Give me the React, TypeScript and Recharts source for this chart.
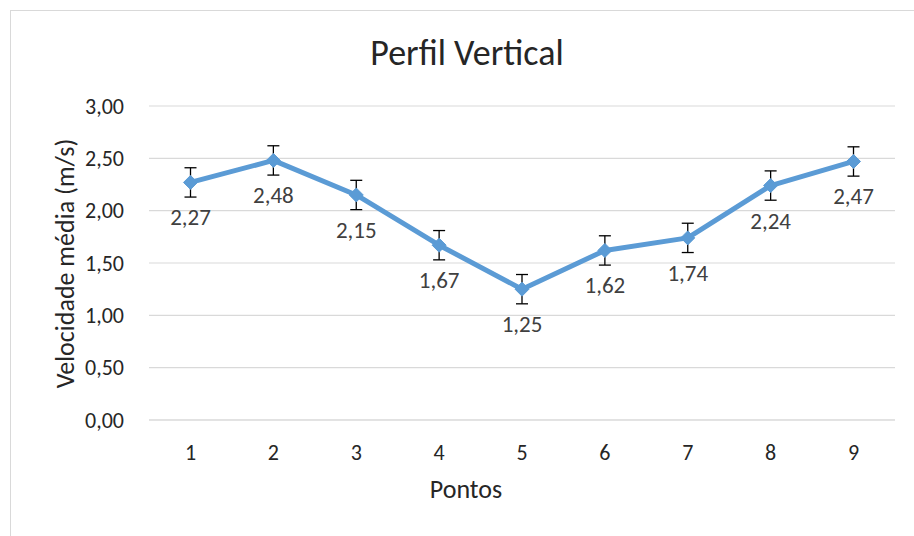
import React from "react";
import {
  LineChart,
  Line,
  XAxis,
  YAxis,
  CartesianGrid,
  ErrorBar,
  LabelList,
} from "recharts";

const pontos = ["1", "2", "3", "4", "5", "6", "7", "8", "9"];
const velocidades = [2.27, 2.48, 2.15, 1.67, 1.25, 1.62, 1.74, 2.24, 2.47];
const erros = [0.14, 0.14, 0.14, 0.14, 0.14, 0.14, 0.14, 0.14, 0.14];
const yTicks = [0, 0.5, 1, 1.5, 2, 2.5, 3];

const dados = pontos.map((p, i) => ({
  ponto: p,
  vel: velocidades[i],
  erro: erros[i],
}));

const FONT = "Carlito, Calibri, Lato, sans-serif";
const W = 914;
const H = 536;

const fmt = (v: number) => v.toFixed(2).replace(".", ",");

function Diamond(props: any) {
  const { cx, cy } = props;
  if (cx == null || cy == null) return null;
  const r = 7;
  return (
    <polygon
      points={`${cx},${cy - r} ${cx + r},${cy} ${cx},${cy + r} ${cx - r},${cy}`}
      fill="#5B9BD5"
      stroke="#5B9BD5"
    />
  );
}

function ValueLabel(props: any) {
  const { x, y, value } = props;
  return (
    <text
      x={x}
      y={Number(y) + 35}
      textAnchor="middle"
      dominantBaseline="central"
      fontSize={23}
      fontFamily={FONT}
      fill="#404040"
    >
      {fmt(Number(value))}
    </text>
  );
}

export default function App() {
  return (
    <div style={{ position: "absolute", left: 0, top: 0, width: W, height: H, overflow: "hidden", background: "#fff" }}>
      <div
        style={{
          position: "absolute",
          left: 10,
          top: 10,
          width: 1000,
          height: 1000,
          border: "1px solid #d9d9d9",
        }}
      />
      <LineChart
        width={W}
        height={H}
        data={dados}
        margin={{ top: 106, right: 19, bottom: 86, left: 0 }}
        style={{ position: "absolute", left: 0, top: 0 }}
      >
        <CartesianGrid vertical={false} stroke="#d9d9d9" strokeWidth={1.2} />
        <XAxis
          dataKey="ponto"
          height={30}
          padding={{ left: 41.5, right: 41.5 }}
          stroke="#d9d9d9"
          tickLine={false}
          tickMargin={18}
          tick={{ fill: "#262626", fontSize: 22, fontFamily: FONT }}
        />
        <YAxis
          width={149}
          domain={[0, 3]}
          ticks={yTicks}
          axisLine={false}
          tickLine={false}
          tickMargin={19}
          tickFormatter={fmt}
          tick={{ fill: "#262626", fontSize: 22, fontFamily: FONT }}
        />
        <Line
          dataKey="vel"
          stroke="#5B9BD5"
          strokeWidth={5}
          strokeLinejoin="round"
          dot={(p: any) => <Diamond key={p.index} {...p} />}
          activeDot={false}
          isAnimationActive={false}
        >
          <ErrorBar dataKey="erro" direction="y" width={6} stroke="#000" strokeWidth={1.3} />
          <LabelList dataKey="vel" content={<ValueLabel />} />
        </Line>
      </LineChart>
      <svg
        width={W}
        height={H}
        style={{ position: "absolute", left: 0, top: 0, pointerEvents: "none" }}
      >
        <text x={467} y={65} textAnchor="middle" fontSize={36} fontFamily={FONT} fill="#262626">
          Perfil Vertical
        </text>
        <text x={466} y={498} textAnchor="middle" fontSize={26} fontFamily={FONT} fill="#262626">
          Pontos
        </text>
        <text
          x={0}
          y={0}
          transform="translate(65,263.5) rotate(-90)"
          textAnchor="middle"
          dominantBaseline="central"
          fontSize={26}
          fontFamily={FONT}
          fill="#262626"
        >
          Velocidade média (m/s)
        </text>
      </svg>
    </div>
  );
}
